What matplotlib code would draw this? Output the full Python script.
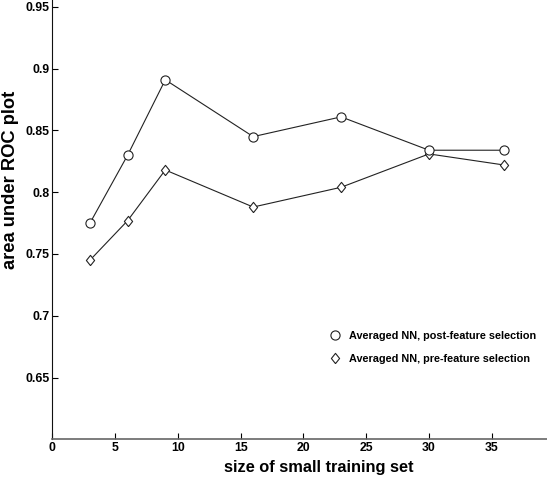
import matplotlib.pyplot as plt
from matplotlib.lines import Line2D

# training set size vs. area under ROC
sizes = [3, 6, 9, 16, 23, 30, 36]
auc_post = [0.775, 0.830, 0.891, 0.845, 0.861, 0.834, 0.834]
auc_pre = [0.745, 0.777, 0.818, 0.788, 0.804, 0.831, 0.822]
xticks = [0, 5, 10, 15, 20, 25, 30, 35]
yticks = [0.65, 0.7, 0.75, 0.8, 0.85, 0.9, 0.95]
ytick_labels = ['0.65', '0.7', '0.75', '0.8', '0.85', '0.9', '0.95']
labels = ['Averaged NN, post-feature selection', 'Averaged NN, pre-feature selection']

plt.rcParams['font.family'] = 'Liberation Sans'
plt.rcParams['font.weight'] = 'bold'

diamond = [(0, -1), (0.8, 0), (0, 1), (-0.8, 0), (0, -1)]

fig = plt.figure(figsize=(5.47, 4.82), dpi=100)
ax = fig.add_axes([0.0956, 0.0886, 0.9044, 0.9114])

ax.plot(sizes, auc_post, color='#222222', lw=0.8, marker='o', ms=6.6,
        mfc='white', mec='#222222', mew=0.8, zorder=3)
ax.plot(sizes, auc_pre, color='#222222', lw=0.8, marker=diamond, ms=7.4,
        mfc='white', mec='#222222', mew=0.8, zorder=2)

ax.set_xlim(0, 39.4)
ax.set_ylim(0.6, 0.9556)
ax.set_xticks(xticks)
ax.set_yticks(yticks)
ax.set_yticklabels(ytick_labels)
ax.tick_params(direction='in', length=4, width=0.8, labelsize=8.8, pad=2)

for s in ['top', 'right']:
    ax.spines[s].set_visible(False)
ax.spines['left'].set_color('#111111')
ax.spines['bottom'].set_color('#666666')
ax.spines['bottom'].set_linewidth(1.2)

ax.set_xlabel('size of small training set', fontsize=11.8, fontweight='bold')
ax.set_ylabel('area under ROC plot', fontsize=13.2, fontweight='bold')
ax.xaxis.set_label_coords(0.538, -0.047)
ax.yaxis.set_label_coords(-0.068, 0.59)

handles = [
    Line2D([], [], ls='none', marker='o', ms=6.6, mfc='white', mec='#222222', mew=0.8),
    Line2D([], [], ls='none', marker=diamond, ms=7.4, mfc='white', mec='#222222', mew=0.8),
]
ax.legend(handles, labels, loc='center left', bbox_to_anchor=(0.541, 0.21),
          frameon=False, fontsize=7.8, handlelength=1.0, handletextpad=0.8,
          labelspacing=1.2)

fig.savefig('out.png', dpi=100)
